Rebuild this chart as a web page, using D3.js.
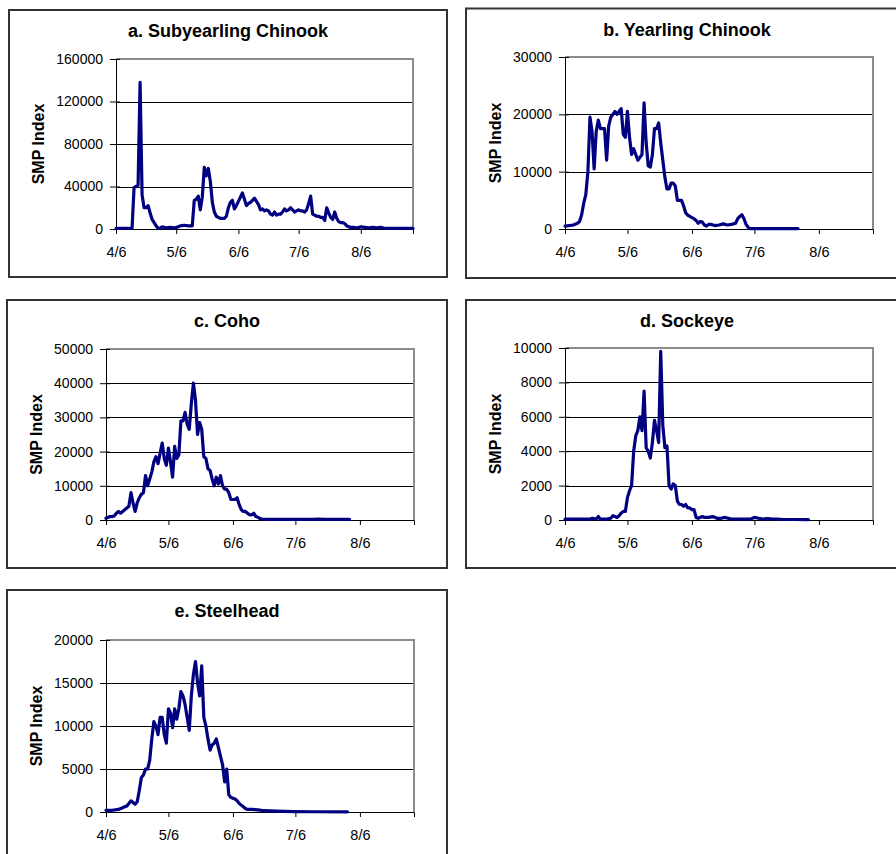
<!DOCTYPE html>
<html><head><meta charset="utf-8">
<script src="https://cdn.jsdelivr.net/npm/d3@7"></script>
<style>body{margin:0;background:#fff}svg{display:block}</style>
</head><body>
<svg id="chart" width="896" height="854"></svg>
<script>
// ---- data (day offsets from 4/6, SMP index values) ----
const tickDays = [0, 30, 61, 91, 122];
const tickLabels = ["4/6", "5/6", "6/6", "7/6", "8/6"];
const titles = ["a. Subyearling Chinook", "b. Yearling Chinook", "c. Coho", "d. Sockeye", "e. Steelhead"];
const yMaxes = [160000, 30000, 50000, 10000, 20000];
const ySteps = [40000, 10000, 10000, 2000, 5000];

const subDays = [0,8,9,10,11,12,13,14,15,16,17,18,19,20,21,22,23,24,25,27,29,31,32,34,36,38,39,40,41,42,43,44,45,46,47,48,49,50,51,52,54,55,56,57,58,59,60,61,62,63,64,65,66,67,68,69,70,71,72,73,74,75,76,77,78,79,80,81,82,83,84,85,86,87,88,89,90,91,92,93,94,95,96,97,98,99,100,101,102,103,104,105,106,107,108,109,110,111,112,113,114,115,116,117,118,120,122,124,126,128,130,132,134,148];
const subVals = [500,500,39000,40000,41000,138000,32000,20000,20000,22000,15000,9000,6000,3000,500,1000,2000,1500,1000,1500,1000,2000,3000,3500,3000,3000,27000,28000,31000,18000,30000,58000,50000,57000,45000,25000,16000,12000,11000,10000,10000,12000,20000,25000,27000,19000,22000,26000,30000,34000,28000,22000,24000,25000,27000,29000,26000,23000,18000,19000,17000,18000,17000,14000,13000,16000,13000,14000,14000,16000,19000,17000,18000,20000,18000,16000,17000,18000,17000,17000,16000,18000,24000,31000,14000,13000,12000,12000,11000,11000,8000,20000,15000,11000,9000,16000,10000,7000,6000,6000,5000,3000,2000,1500,1500,1000,2000,1500,1000,1500,1000,1500,500,500];

const ylDays = [0,2,4,6,7,8,9,10,11,12,13,14,15,16,17,18,19,20,21,22,23,24,25,26,27,28,29,30,31,32,33,34,35,36,37,38,39,40,41,42,43,44,45,46,47,48,49,50,51,52,53,54,55,56,57,58,59,60,61,62,63,64,65,66,67,68,69,70,72,74,76,78,80,82,83,84,85,86,87,88,89,90,95,100,105,112];
const ylVals = [500,600,700,1000,1300,2500,4500,6000,10000,19500,17000,10500,17000,19000,17500,17500,17500,12000,18000,19500,20000,20500,20000,20500,21000,16500,16000,20500,16000,13000,14000,13000,12000,12500,13000,22000,15000,11000,10800,13000,17500,17500,18500,15000,12000,9000,7000,7000,8000,8000,7500,5000,5000,5000,4000,2800,2400,2200,2000,1800,1500,1000,1300,1200,700,500,800,800,600,700,900,700,800,1000,1800,2200,2500,1800,800,300,50,50,50,50,50,50];

const cohoDays = [0,2,3,4,5,6,7,8,9,10,11,12,13,14,15,16,17,18,19,20,21,22,23,24,25,26,27,28,29,30,31,32,33,34,35,36,37,38,39,40,41,42,43,44,45,46,47,48,49,50,51,52,53,54,55,56,57,58,59,60,61,62,63,64,65,66,67,68,69,70,71,72,73,74,75,77,80,85,90,95,100,102,105,110,117];
const cohoVals = [500,1000,1000,1200,2000,2500,2000,2500,3000,3500,4000,8000,5000,2500,5000,6500,7500,8000,13000,10000,12000,14000,17000,18500,16500,19500,22500,18000,16000,21000,17000,12500,21500,18000,19000,29000,29000,31500,28000,26500,34000,40000,35000,25000,28500,26500,18500,18000,15000,14500,12000,10000,12500,10500,13000,10000,9000,9000,8000,6000,6000,6000,6500,4500,3000,2500,2500,2000,1500,1500,2000,1000,800,400,300,200,200,200,200,200,200,300,200,200,200];

const sockDays = [0,10,12,13,15,16,17,18,20,22,23,24,25,26,27,28,29,30,31,32,33,34,35,36,37,38,39,40,41,42,43,44,45,46,47,48,49,50,51,52,53,54,55,56,57,58,59,60,61,62,63,64,66,67,69,71,73,75,77,80,85,89,91,93,95,97,99,102,105,110,117];
const sockVals = [50,50,50,100,50,200,50,50,50,100,250,200,150,250,400,500,500,1300,1700,2000,4000,4900,5200,6000,5200,7500,4200,4000,3600,4500,5800,5200,4500,9800,5500,4200,4300,2000,1800,2100,2000,1100,900,900,800,900,700,700,600,600,150,100,200,150,150,200,100,100,150,50,50,50,150,100,50,80,60,50,30,30,20];

const stDays = [0,3,6,8,9,10,11,12,13,14,15,16,17,18,19,20,21,22,23,24,25,26,27,28,29,30,31,32,33,34,35,36,37,38,39,40,41,42,43,44,45,46,47,48,49,50,51,52,53,54,55,56,57,58,59,60,61,62,63,64,65,66,67,68,70,73,76,82,90,100,116];
const stVals = [200,200,300,500,600,700,1000,1300,1100,900,1200,2500,4000,4300,5000,5000,6000,8500,10500,10000,9000,11000,11000,9000,8000,12000,11500,9800,12000,10800,12000,14000,13500,12500,11000,9500,13500,16000,17500,15000,13500,17000,11000,10000,8500,7200,7800,8000,8500,7500,6500,5500,3500,5000,2000,1700,1600,1500,1300,1000,800,600,400,300,300,250,150,100,50,30,20];

const seriesDays = [subDays, ylDays, cohoDays, sockDays, stDays];
const seriesVals = [subVals, ylVals, cohoVals, sockVals, stVals];

// ---- layout ----
const boxes = [[9,10,438,267],[466,8.5,442,269.5],[7,300,440,268],[466,300,442,268],[7,590,440,300]];
const plots = [[116,59,297,170],[565,57,308,172],[106,349,308,171],[565,348,308,172],[106,640,308,172]];
const FONT = "'Liberation Sans', Arial, Helvetica, sans-serif";

const svg = d3.select("#chart");
svg.append("rect").attr("width",896).attr("height",854).attr("fill","#fff");

titles.forEach((title, i) => {
  const [bx,by,bw,bh] = boxes[i];
  const [px,py,pw,ph] = plots[i];
  const g = svg.append("g");
  g.append("rect").attr("x",bx).attr("y",by).attr("width",bw).attr("height",bh)
    .attr("fill","#fff").attr("stroke","#333").attr("stroke-width",2);

  const x = d3.scaleLinear().domain([0,148]).range([px, px+pw]);
  const y = d3.scaleLinear().domain([0, yMaxes[i]]).range([py+ph, py]);
  const yt = d3.range(0, yMaxes[i] + 1, ySteps[i]);

  // gridlines
  g.selectAll(null).data(yt.filter(v => v > 0 && v < yMaxes[i])).join("line")
    .attr("x1",px).attr("x2",px+pw).attr("y1",d=>Math.round(y(d))+0.5).attr("y2",d=>Math.round(y(d))+0.5)
    .attr("stroke","#000").attr("stroke-width",1);
  // plot border (top/right gray)
  g.append("path").attr("d",`M${px},${py}H${px+pw}V${py+ph}`)
    .attr("fill","none").attr("stroke","#8c8c8c").attr("stroke-width",2);

  // y axis
  const ya = g.append("g").attr("transform",`translate(${px},0)`)
    .call(d3.axisLeft(y).tickValues(yt).tickFormat(d3.format("d")).tickSize(6).tickPadding(7));
  ya.select(".domain").attr("stroke","#000");
  ya.selectAll(".tick line").attr("x2",-6).attr("x1",4).attr("stroke","#000");
  ya.selectAll("text").attr("font-family",FONT).attr("font-size",14).attr("fill","#000");

  // x axis
  const xa = g.append("g").attr("transform",`translate(0,${py+ph})`)
    .call(d3.axisBottom(x).tickValues(tickDays).tickFormat((d,j)=>tickLabels[j]).tickSize(5).tickPadding(13));
  xa.select(".domain").attr("stroke","#000");
  xa.selectAll(".tick line").attr("stroke","#000");
  xa.selectAll("text").attr("font-family",FONT).attr("font-size",14.5).attr("fill","#000");

  // line
  const pts = seriesDays[i].map((d,k)=>[d, seriesVals[i][k]]);
  g.append("path").datum(pts)
    .attr("d", d3.line().x(d=>x(d[0])).y(d=>y(d[1])))
    .attr("fill","none").attr("stroke","#000080").attr("stroke-width",3.2)
    .attr("stroke-linejoin","round").attr("stroke-linecap","round");

  // title
  g.append("text").attr("x", bx + bw/2).attr("y", by + 27).attr("text-anchor","middle")
    .attr("font-family",FONT).attr("font-size",18).attr("font-weight","bold").text(title);
  // y label
  g.append("text").attr("transform",`translate(${bx+34.5},${py+ph/2}) rotate(-90)`)
    .attr("text-anchor","middle").attr("font-family",FONT).attr("font-size",16)
    .attr("font-weight","bold").text("SMP Index");
});
</script>
</body></html>
